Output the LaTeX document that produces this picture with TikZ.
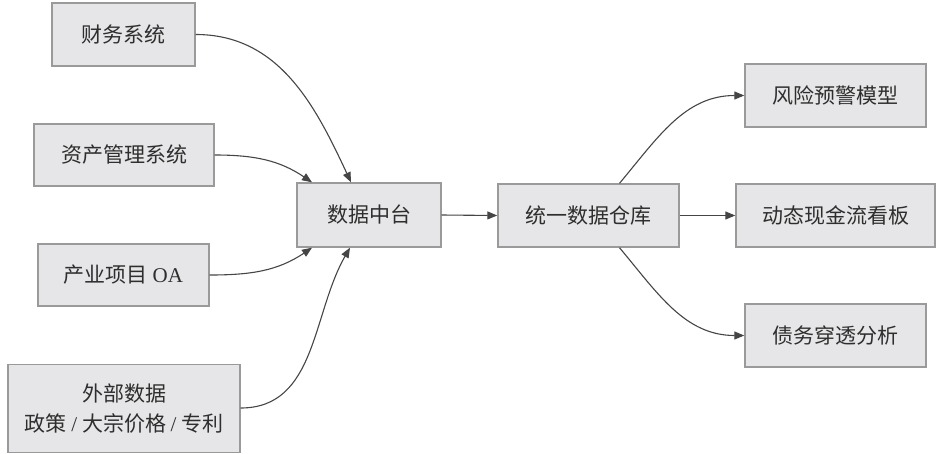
\documentclass[tikz,border=0pt]{standalone}
\usepackage{fontspec}
\setmainfont{Noto Sans CJK SC}
\newfontfamily\latinserif{Liberation Serif}
\usetikzlibrary{arrows.meta}
\definecolor{boxfill}{HTML}{E6E6E8}
\definecolor{boxline}{HTML}{9A9A9A}
\definecolor{arr}{HTML}{454545}
\definecolor{txt}{HTML}{2E2E2E}
\begin{document}
\begin{tikzpicture}[x=1pt,y=-1pt,
  box/.style={draw=boxline,line width=1.4pt,fill=boxfill,text=txt,font=\fontsize{21}{30}\selectfont,inner sep=0pt,align=center},
  conn/.style={draw=arr,line width=1.1pt,-{Triangle[length=10pt,width=8pt]}}]
\useasboundingbox (0,0) rectangle (936,453);
\node[box,minimum width=143pt,minimum height=63pt] (fin) at (123.5,34.5) {财务系统};
\node[box,minimum width=180pt,minimum height=62pt] (asset) at (124,155) {资产管理系统};
\node[box,minimum width=171pt,minimum height=62pt] (oa) at (123.5,275) {产业项目 {\latinserif OA}};
\node[box,minimum width=232pt,minimum height=88pt] (ext) at (124,408.5) {外部数据\\政策 {\latinserif /} 大宗价格 {\latinserif /} 专利};
\node[box,minimum width=144pt,minimum height=64pt] (mid) at (369,215) {数据中台};
\node[box,minimum width=181pt,minimum height=63pt] (dw) at (588.5,215.5) {统一数据仓库};
\node[box,minimum width=181pt,minimum height=63pt] (risk) at (835.5,95.5) {风险预警模型};
\node[box,minimum width=199pt,minimum height=63pt] (cash) at (835.5,215.5) {动态现金流看板};
\node[box,minimum width=181pt,minimum height=63pt] (debt) at (835.5,335.5) {债务穿透分析};
\coordinate (midT1) at ([xshift=-57pt]mid.north);
\coordinate (midT2) at ([xshift=-18pt]mid.north);
\coordinate (midB1) at ([xshift=-57pt]mid.south);
\coordinate (midB2) at ([xshift=-19pt]mid.south);
\coordinate (dwT) at ([xshift=31pt]dw.north);
\coordinate (dwB) at ([xshift=31pt]dw.south);
\draw[conn] (fin.east) to[out=0,in=115] (midT2);
\draw[conn] (asset.east) to[out=0,in=146] (midT1);
\draw[conn] (oa.east) to[out=0,in=-146] (midB1);
\draw[conn] ([yshift=0.5pt]ext.east) to[out=0,in=-120] (midB2);
\draw[conn] (mid.east) -- (dw.west);
\draw[conn] (dwT) to[out=50,in=180] (risk.west);
\draw[conn] (dw.east) -- (cash.west);
\draw[conn] (dwB) to[out=-50,in=180] (debt.west);
\end{tikzpicture}
\end{document}
